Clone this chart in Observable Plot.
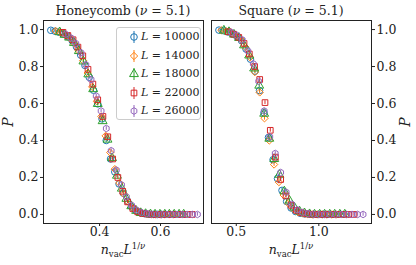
<!DOCTYPE html>
<html><head><meta charset="utf-8">
<script src="https://cdn.jsdelivr.net/npm/d3@7"></script>
<script src="https://cdn.jsdelivr.net/npm/@observablehq/plot@0.6"></script>
<style>
html,body{margin:0;padding:0;background:#fff;}
#wrap{position:relative;width:416px;height:265px;font-family:"DejaVu Serif",serif;color:#222;}
#wrap svg.plot{position:absolute;top:0;}
.lbl{position:absolute;white-space:nowrap;font-size:13px;line-height:1;}
.ttl{position:absolute;white-space:nowrap;font-size:12.5px;line-height:1;transform:translateX(-50%);}
.sb{position:relative;top:3px;font-size:8.5px;line-height:1;}
.sp{position:relative;top:-5px;font-size:8.5px;line-height:1;}
#legend{position:absolute;left:116px;top:27px;width:85px;height:93px;border:1px solid #ccc;border-radius:3px;background:rgba(255,255,255,0.8);box-sizing:border-box;}
.row{position:absolute;left:0;height:16px;font-size:11px;line-height:16px;white-space:nowrap;}
.row svg{position:absolute;left:10px;top:0;}
.row span{position:absolute;left:24px;top:0;}
</style></head>
<body><div id="wrap"></div>
<script>
// ---- data ----
const sizesL = [10000, 14000, 18000, 22000, 26000];
const colors = ["#1f77b4", "#ff7f0e", "#2ca02c", "#d62728", "#9467bd"];
const yTicks = [0, 0.2, 0.4, 0.6, 0.8, 1.0];
const hcXTicks = [0.4, 0.6];
const sqXTicks = [0.5, 1.0];
const errHalf = [0.01, 0.01, 0.01, 0.01, 0.01];

// Honeycomb
const hc_x_10000 = [0.240,0.254,0.268,0.282,0.296,0.310,0.324,0.338,0.352,0.366,0.380,0.394,0.408,0.422,0.436,0.450,0.464,0.478,0.492,0.506,0.520,0.534,0.548,0.562,0.576,0.590,0.604];
const hc_P_10000 = [0.996,0.991,0.985,0.975,0.961,0.940,0.907,0.862,0.806,0.742,0.672,0.598,0.517,0.400,0.300,0.230,0.165,0.115,0.072,0.040,0.020,0.009,0.004,0.001,0,0,0];
const hc_x_14000 = [0.256,0.271,0.286,0.301,0.316,0.331,0.346,0.361,0.376,0.391,0.406,0.420,0.435,0.450,0.465,0.480,0.495,0.510,0.525,0.540,0.555,0.570,0.584,0.599,0.614,0.629,0.644];
const hc_P_14000 = [0.992,0.984,0.971,0.955,0.927,0.887,0.832,0.765,0.690,0.612,0.530,0.425,0.335,0.245,0.170,0.110,0.066,0.035,0.016,0.007,0.003,0.001,0,0,0,0,0];
const hc_x_18000 = [0.269,0.285,0.300,0.316,0.332,0.347,0.363,0.379,0.394,0.410,0.426,0.441,0.457,0.473,0.488,0.504,0.520,0.535,0.551,0.567,0.582,0.598,0.614,0.629,0.645,0.661,0.676];
const hc_P_18000 = [0.986,0.972,0.957,0.928,0.884,0.828,0.758,0.678,0.598,0.505,0.405,0.305,0.210,0.140,0.085,0.045,0.020,0.008,0.003,0.001,0,0,0,0,0,0,0];
const hc_x_22000 = [0.280,0.296,0.313,0.329,0.345,0.362,0.378,0.394,0.411,0.427,0.443,0.460,0.476,0.492,0.509,0.525,0.541,0.558,0.574,0.590,0.607,0.623,0.639,0.656,0.672,0.688,0.704];
const hc_P_22000 = [0.985,0.968,0.945,0.905,0.858,0.785,0.705,0.620,0.530,0.420,0.300,0.200,0.125,0.068,0.032,0.014,0.005,0.002,0,0,0,0,0,0,0,0,0];
const hc_x_26000 = [0.289,0.306,0.322,0.339,0.355,0.372,0.389,0.405,0.422,0.438,0.455,0.472,0.488,0.505,0.521,0.538,0.555,0.571,0.588,0.604,0.621,0.638,0.654,0.671,0.687,0.704,0.721];
const hc_P_26000 = [0.975,0.955,0.925,0.875,0.810,0.730,0.640,0.560,0.465,0.345,0.240,0.160,0.095,0.050,0.024,0.010,0.004,0.001,0,0,0,0,0,0,0,0,0];

// Square
const sq_x_10000 = [0.395,0.422,0.450,0.477,0.504,0.532,0.559,0.586,0.613,0.641,0.668,0.695,0.723,0.750,0.777,0.805,0.832,0.859,0.886,0.914,0.941,0.968,0.996,1.023,1.050];
const sq_P_10000 = [0.997,0.994,0.987,0.977,0.962,0.940,0.895,0.840,0.775,0.670,0.550,0.416,0.296,0.194,0.130,0.070,0.035,0.016,0.007,0.003,0.001,0,0,0,0];
const sq_x_14000 = [0.410,0.439,0.468,0.497,0.526,0.555,0.584,0.613,0.642,0.671,0.700,0.729,0.758,0.787,0.816,0.845,0.874,0.903,0.932,0.961,0.990,1.019,1.048,1.077,1.106];
const sq_P_14000 = [0.996,0.991,0.982,0.968,0.948,0.905,0.850,0.770,0.660,0.520,0.400,0.270,0.175,0.105,0.060,0.030,0.013,0.005,0.002,0,0,0,0,0,0];
const sq_x_18000 = [0.425,0.456,0.486,0.517,0.547,0.578,0.608,0.639,0.669,0.700,0.730,0.761,0.791,0.822,0.852,0.883,0.913,0.944,0.974,1.005,1.035,1.066,1.096,1.127,1.157];
const sq_P_18000 = [0.995,0.987,0.973,0.955,0.915,0.860,0.790,0.697,0.545,0.410,0.300,0.215,0.125,0.075,0.038,0.017,0.007,0.002,0,0,0,0,0,0,0];
const sq_x_22000 = [0.452,0.484,0.515,0.547,0.579,0.611,0.642,0.674,0.706,0.737,0.769,0.801,0.832,0.864,0.896,0.928,0.959,0.991,1.023,1.054,1.086,1.118,1.150,1.181,1.213];
const sq_P_22000 = [0.988,0.975,0.958,0.925,0.868,0.800,0.730,0.605,0.455,0.310,0.189,0.100,0.050,0.022,0.009,0.003,0.001,0,0,0,0,0,0,0,0];
const sq_x_26000 = [0.470,0.503,0.536,0.570,0.603,0.636,0.669,0.703,0.736,0.769,0.802,0.836,0.869,0.902,0.935,0.969,1.002,1.035,1.068,1.102,1.135,1.168,1.201,1.235,1.268];
const sq_P_26000 = [0.985,0.970,0.945,0.885,0.815,0.720,0.560,0.420,0.330,0.227,0.120,0.055,0.025,0.010,0.004,0.001,0,0,0,0,0,0,0,0,0];

const hcX = [hc_x_10000, hc_x_14000, hc_x_18000, hc_x_22000, hc_x_26000];
const hcP = [hc_P_10000, hc_P_14000, hc_P_18000, hc_P_22000, hc_P_26000];
const sqX = [sq_x_10000, sq_x_14000, sq_x_18000, sq_x_22000, sq_x_26000];
const sqP = [sq_P_10000, sq_P_14000, sq_P_18000, sq_P_22000, sq_P_26000];

// hexagon symbol (matplotlib 'h')
const hexagon = {draw(ctx, size) {
  const r = Math.sqrt(size / (1.5 * Math.sqrt(3)));
  for (let i = 0; i < 6; i++) {
    const a = Math.PI / 2 + i * Math.PI / 3;
    const px = r * Math.cos(a), py = r * Math.sin(a);
    if (i === 0) ctx.moveTo(px, py); else ctx.lineTo(px, py);
  }
  ctx.closePath();
}};
const symbols = ["circle", "diamond2", "triangle", "square", hexagon];
const radii = [3.3, 3.3, 3.3, 3.2, 3.0];

function rowsFor(X, P) {
  const out = [];
  X.forEach((xs, s) => xs.forEach((x, i) => out.push({s, x, P: P[s][i]})));
  return out;
}

function panel(rows, xDomain, xTicks, yAxis, margins) {
  const marks = [];
  for (let s = 0; s < 5; s++) {
    const d = rows.filter(r => r.s === s);
    marks.push(Plot.ruleX(d, {x: "x", y1: r => r.P - errHalf[s], y2: r => r.P + errHalf[s], stroke: colors[s], strokeWidth: 1}));
    marks.push(Plot.dot(d, {x: "x", y: "P", symbol: () => symbols[s], r: radii[s], stroke: colors[s], fill: "none", strokeWidth: 1}));
  }
  marks.push(Plot.frame({stroke: "#222", strokeWidth: 1}));
  return Plot.plot({
    width: 208, height: 265, ...margins,
    x: {domain: xDomain, ticks: xTicks, tickFormat: ".1f", tickSize: 3, tickPadding: 1, label: null},
    y: {domain: [-0.049, 1.049], ticks: yTicks, tickFormat: ".1f", tickSize: 3, tickPadding: 2, label: null, axis: yAxis},
    symbol: {type: "identity"},
    style: {fontFamily: "'DejaVu Serif', serif", fontSize: "12.5px", color: "#222", background: "transparent", overflow: "visible"},
    marks
  });
}

const wrap = document.getElementById("wrap");
const left = panel(rowsFor(hcX, hcP), [0.216, 0.741], hcXTicks, "left",
  {marginLeft: 43, marginRight: 5, marginTop: 20, marginBottom: 42});
left.classList.add("plot"); left.style.left = "0px";
const right = panel(rowsFor(sqX, sqP), [0.35, 1.319], sqXTicks, "right",
  {marginLeft: 3, marginRight: 45, marginTop: 20, marginBottom: 42});
right.classList.add("plot"); right.style.left = "208px";
wrap.appendChild(left); wrap.appendChild(right);

function addHTML(cls, html, css) {
  const d = document.createElement("div");
  d.className = cls; d.innerHTML = html;
  Object.assign(d.style, css);
  wrap.appendChild(d);
  return d;
}
addHTML("ttl", "Honeycomb (<i>ν</i> = 5.1)", {left: "123px", top: "5px"});
addHTML("ttl", "Square (<i>ν</i> = 5.1)", {left: "291px", top: "5px"});
const xl = "<i>n</i><span class='sb'>vac</span><i>L</i><span class='sp'>1/<i>ν</i></span>";
addHTML("ttl", xl, {left: "123px", top: "244px"});
addHTML("ttl", xl, {left: "291px", top: "244px"});
addHTML("lbl", "<i>P</i>", {left: "3px", top: "115px", transform: "rotate(-90deg)", fontSize: "14px"});
addHTML("lbl", "<i>P</i>", {left: "400px", top: "115px", transform: "rotate(-90deg)", fontSize: "14px"});

// legend
const leg = document.createElement("div"); leg.id = "legend"; wrap.appendChild(leg);
sizesL.forEach((L, s) => {
  const row = document.createElement("div");
  row.className = "row"; row.style.top = (1 + s * 18.5) + "px";
  const path = (typeof symbols[s] === "string")
    ? d3.symbol().type({circle: d3.symbolCircle, diamond2: d3.symbolDiamond2, triangle: d3.symbolTriangle, square: d3.symbolSquare}[symbols[s]]).size(Math.PI * radii[s] ** 2)()
    : d3.symbol().type(hexagon).size(Math.PI * radii[s] ** 2)();
  row.innerHTML = `<svg width="14" height="16" viewBox="-7 -8 14 16"><line x1="0" x2="0" y1="-6" y2="6" stroke="${colors[s]}" stroke-width="1"/><path d="${path}" fill="none" stroke="${colors[s]}" stroke-width="1"/></svg><span><i>L</i> = ${L}</span>`;
  leg.appendChild(row);
});
</script></body></html>
